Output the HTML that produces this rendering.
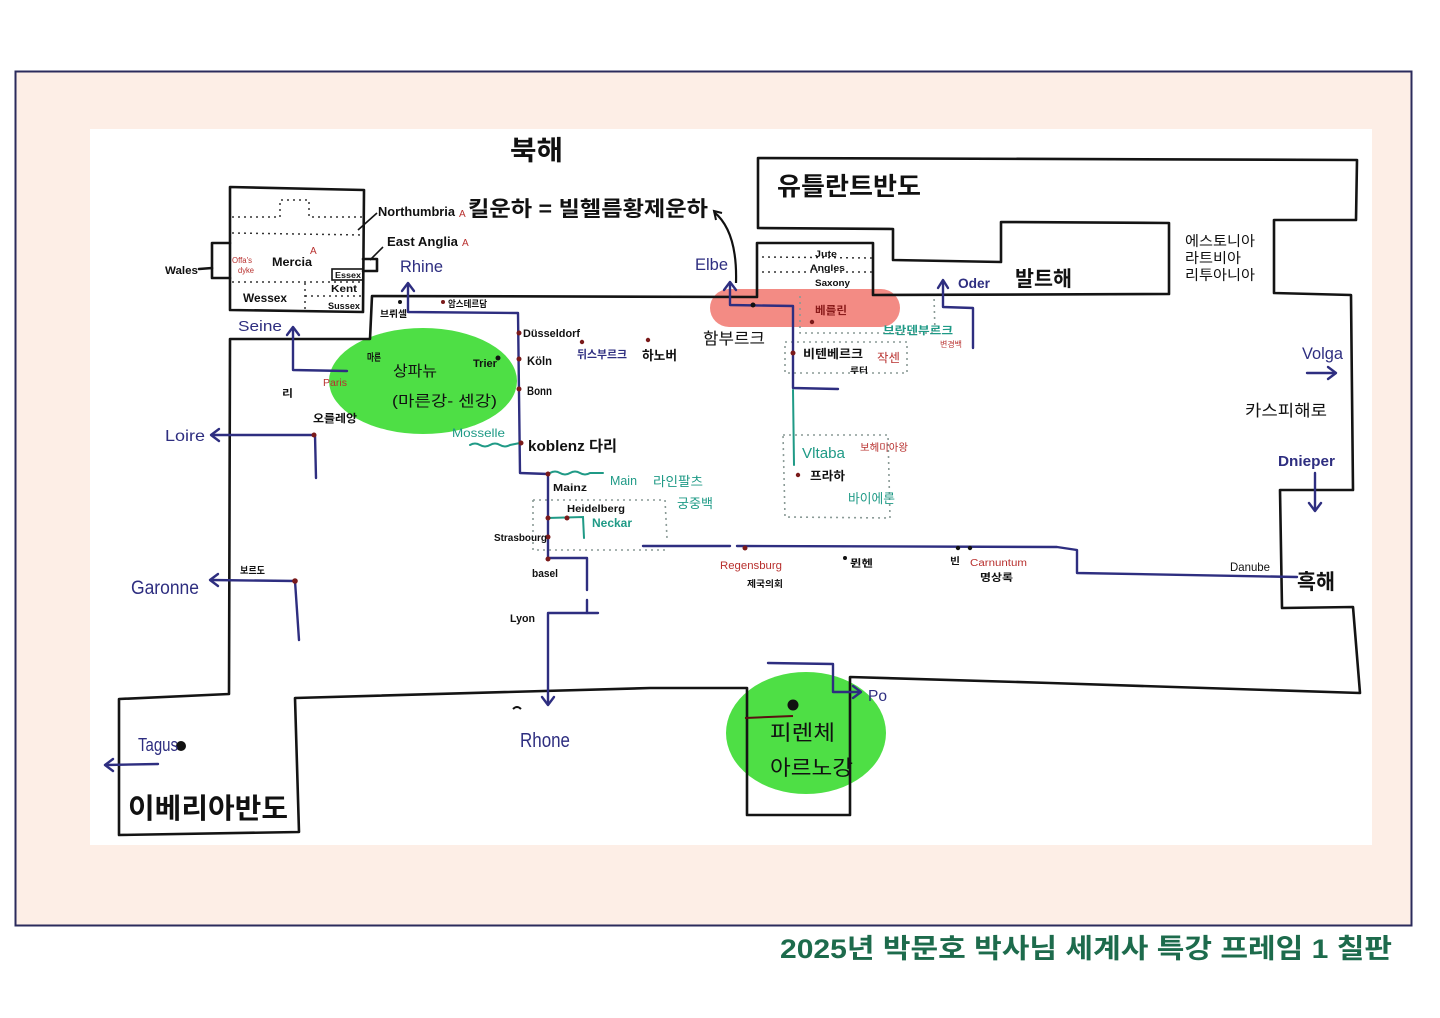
<!DOCTYPE html>
<html><head><meta charset="utf-8">
<style>
html,body{margin:0;padding:0;background:#fff;width:1440px;height:1018px;overflow:hidden}
svg{display:block}
text{font-family:"Liberation Sans","Noto Sans CJK KR",sans-serif}
</style></head><body>
<svg width="1440" height="1018" viewBox="0 0 1440 1018" xmlns="http://www.w3.org/2000/svg">
<rect x="15.5" y="71.5" width="1396" height="854" fill="#fdeee6" stroke="#2b2b5c" stroke-width="2"/>
<rect x="90" y="129" width="1282" height="716" fill="#fff"/>

<!-- highlight blobs -->
<ellipse cx="423" cy="381" rx="94" ry="53" fill="#3fdc35" opacity="0.92"/>
<ellipse cx="806" cy="733" rx="80" ry="61" fill="#3fdc35" opacity="0.92"/>
<rect x="710" y="289" width="190" height="38" rx="19" fill="#ee5a50" opacity="0.7"/>

<!-- coast outlines -->
<g fill="none" stroke="#141414" stroke-width="2.6" stroke-linejoin="round" stroke-linecap="round">
<path d="M230,187 L364,190 L363,312 L230,310 Z"/>
<path d="M230,243 L212,243 L212,278 L230,278"/>
<path d="M363,259 L377,259 L377,271 L363,271"/>
<path d="M199,269 L212,268"/>
<path d="M229,694 L230,339 L370,339 L372,296 L757,297 L757,243 L873,243 L873,295 L1169,294 L1169,223 L1001,222 L1001,262 L893,260 L893,229 L758,228 L758,158 L1357,160 L1356,220 L1274,220 L1274,293 L1351,295 L1353,490 L1280,490 L1282,608 L1353,607 L1360,693 L1050,683 L850,677 L850,815 L747,815 L747,688 L650,688 L295,698 L299,832 L119,835 L119,699 L229,694 Z"/>
</g>
<g fill="none" stroke="#141414" stroke-width="1.6">
<path d="M377,213 L358,230"/>
<path d="M383,247 L370,260"/>
<rect x="332" y="269" width="31" height="11"/>
</g>

<!-- dotted regions -->
<g fill="none" stroke="#333" stroke-width="1.5" stroke-dasharray="2 4">
<path d="M232,217 L280,217 L280,200 L309,200 L309,217 L363,217"/>
<path d="M232,233 L363,235"/>
<path d="M232,282 L363,282"/>
<path d="M305,283 L305,310"/>
<path d="M305,296 L330,296 L363,296"/>
<path d="M762,257 L872,258"/>
<path d="M762,272 L872,272"/>
</g>
<g fill="none" stroke="#8a9a96" stroke-width="1.6" stroke-dasharray="2 4">
<path d="M800,296 L800,333 L935,333 L934,296"/>
<path d="M785,342 L907,342 L907,373 L785,373 Z"/>
<path d="M783,435 L888,435 L890,518 L785,517 Z"/>
<path d="M533,500 L665,500 L667,538"/>
<path d="M533,500 L533,550 L668,550"/>
</g>

<!-- rivers -->
<g fill="none" stroke="#2e2e80" stroke-width="2.4" stroke-linejoin="round" stroke-linecap="round">
<path d="M408,284 L408,312 L518,313 L520,473 L548,474 L548,558 L587,558 L587,590"/>
<path d="M587,600 L587,613"/>
<path d="M598,613 L548,613 L548,704"/>
<path d="M402,291 L408,283 L414,291"/>
<path d="M542,697 L548,705 L554,697"/>
<path d="M293,328 L293,370 L347,371"/>
<path d="M287,335 L293,327 L299,335"/>
<path d="M212,435 L315,435 L316,478"/>
<path d="M219,429 L211,435 L219,441"/>
<path d="M211,580 L295,581 L299,640"/>
<path d="M218,574 L210,580 L218,586"/>
<path d="M158,764 L106,765"/>
<path d="M113,759 L105,765 L113,771"/>
<path d="M730,283 L730,305 L793,306 L793,388 L838,389"/>
<path d="M724,290 L730,282 L736,290"/>
<path d="M943,281 L943,307 L973,308 L973,348"/>
<path d="M938,288 L943,280 L948,288"/>
<path d="M643,546 L730,546"/>
<path d="M737,546 L1057,547 L1077,550 L1077,573 L1297,577"/>
<path d="M768,663 L833,664 L833,692 L860,692"/>
<path d="M853,686 L861,692 L853,698"/>
<path d="M1307,373 L1335,373"/>
<path d="M1328,367 L1336,373 L1328,379"/>
<path d="M1315,473 L1315,510"/>
<path d="M1309,503 L1315,511 L1321,503"/>
</g>
<g fill="none" stroke="#1f9a86" stroke-width="2" stroke-linecap="round">
<path d="M793,390 L794,465"/>
<path d="M470,445 q5,-3 10,0 t10,0 t10,0 t10,0 L520,443"/>
<path d="M550,473 q5,-3 10,0 t10,0 t10,0 t10,0 L603,473"/>
<path d="M547,518 L583,517 L584,538"/>
</g>
<path d="M745,718 L793,716" stroke="#5a1010" stroke-width="2" fill="none"/>
<path d="M736,283 C737,250 730,225 714,212" stroke="#111" stroke-width="2.2" fill="none"/>
<path d="M722,213 L714,211 L716,220" stroke="#111" stroke-width="2" fill="none"/>

<!-- dots -->
<g fill="#7a1a1a">
<circle cx="519" cy="333" r="2.5"/><circle cx="519" cy="359" r="2.5"/><circle cx="519" cy="389" r="2.5"/>
<circle cx="521" cy="443" r="2.5"/><circle cx="548" cy="474" r="2.5"/><circle cx="567" cy="518" r="2.5"/>
<circle cx="548" cy="518" r="2.5"/><circle cx="548" cy="537" r="2.5"/><circle cx="548" cy="559" r="2.5"/>
<circle cx="582" cy="342" r="2.2"/><circle cx="648" cy="340" r="2.2"/><circle cx="812" cy="322" r="2.2"/>
<circle cx="793" cy="353" r="2.5"/><circle cx="798" cy="475" r="2.2"/><circle cx="745" cy="548" r="2.5"/>
<circle cx="314" cy="435" r="2.5"/><circle cx="295" cy="581" r="2.8"/><circle cx="443" cy="302" r="2"/>
</g>
<g fill="#111">
<circle cx="753" cy="305" r="2.5"/><circle cx="498" cy="358" r="2.5"/><circle cx="400" cy="302" r="2"/>
<circle cx="845" cy="558" r="2"/><circle cx="958" cy="548" r="2.2"/><circle cx="970" cy="548" r="2.2"/>
<circle cx="793" cy="705" r="5.5"/><circle cx="181" cy="746" r="5"/>
</g>
<path d="M513,709 q4,-4 8,0" stroke="#111" stroke-width="2" fill="none"/>

<!-- printed Korean labels -->
<g fill="#111">
<text x="510" y="160" font-size="27" font-weight="bold" textLength="53" lengthAdjust="spacingAndGlyphs">북해</text>
<text x="468" y="216" font-size="21" font-weight="bold" textLength="240" lengthAdjust="spacingAndGlyphs">킬운하 = 빌헬름황제운하</text>
<text x="777" y="195" font-size="25" font-weight="bold" textLength="144" lengthAdjust="spacingAndGlyphs">유틀란트반도</text>
<text x="1015" y="286" font-size="21" font-weight="bold" textLength="57" lengthAdjust="spacingAndGlyphs">발트해</text>
<text x="1185" y="246" font-size="14" textLength="70" lengthAdjust="spacingAndGlyphs">에스토니아</text>
<text x="1185" y="263" font-size="14" textLength="56" lengthAdjust="spacingAndGlyphs">라트비아</text>
<text x="1185" y="280" font-size="14" textLength="70" lengthAdjust="spacingAndGlyphs">리투아니아</text>
<text x="1245" y="416" font-size="16" textLength="82" lengthAdjust="spacingAndGlyphs">카스피해로</text>
<text x="1297" y="589" font-size="21" font-weight="bold" textLength="38" lengthAdjust="spacingAndGlyphs">흑해</text>
<text x="128" y="818" font-size="28" font-weight="bold" textLength="160" lengthAdjust="spacingAndGlyphs">이베리아반도</text>
<text x="703" y="344" font-size="16" textLength="62" lengthAdjust="spacingAndGlyphs">함부르크</text>
<text x="393" y="376" font-size="15" textLength="44" lengthAdjust="spacingAndGlyphs">상파뉴</text>
<text x="392" y="406" font-size="15" textLength="105" lengthAdjust="spacingAndGlyphs">(마른강- 센강)</text>
<text x="770" y="740" font-size="21" textLength="65" lengthAdjust="spacingAndGlyphs">피렌체</text>
<text x="770" y="775" font-size="21" textLength="83" lengthAdjust="spacingAndGlyphs">아르노강</text>
</g>

<!-- handwritten black labels -->
<g fill="#111" font-weight="bold">
<text x="378" y="216" font-size="13" textLength="77" lengthAdjust="spacingAndGlyphs">Northumbria</text>
<text x="387" y="246" font-size="13" textLength="71" lengthAdjust="spacingAndGlyphs">East Anglia</text>
<text x="272" y="266" font-size="12" textLength="40" lengthAdjust="spacingAndGlyphs">Mercia</text>
<text x="165" y="274" font-size="11" textLength="33" lengthAdjust="spacingAndGlyphs">Wales</text>
<text x="243" y="302" font-size="12" textLength="44" lengthAdjust="spacingAndGlyphs">Wessex</text>
<text x="335" y="278" font-size="8" textLength="26" lengthAdjust="spacingAndGlyphs">Essex</text>
<text x="331" y="292" font-size="10" textLength="26" lengthAdjust="spacingAndGlyphs">Kent</text>
<text x="328" y="309" font-size="9" textLength="32" lengthAdjust="spacingAndGlyphs">Sussex</text>
<text x="380" y="317" font-size="9" textLength="27" lengthAdjust="spacingAndGlyphs">브뤼셀</text>
<text x="448" y="307" font-size="9" textLength="39" lengthAdjust="spacingAndGlyphs">암스테르담</text>
<text x="367" y="361" font-size="10" textLength="14" lengthAdjust="spacingAndGlyphs">마른</text>
<text x="473" y="367" font-size="11" textLength="24" lengthAdjust="spacingAndGlyphs">Trier</text>
<text x="282" y="397" font-size="10" textLength="11" lengthAdjust="spacingAndGlyphs">리</text>
<text x="313" y="422" font-size="11" textLength="44" lengthAdjust="spacingAndGlyphs">오를레앙</text>
<text x="240" y="574" font-size="10" textLength="25" lengthAdjust="spacingAndGlyphs">보르도</text>
<text x="510" y="622" font-size="11" textLength="25" lengthAdjust="spacingAndGlyphs">Lyon</text>
<text x="532" y="577" font-size="11" textLength="26" lengthAdjust="spacingAndGlyphs">basel</text>
<text x="494" y="541" font-size="10" textLength="53" lengthAdjust="spacingAndGlyphs">Strasbourg</text>
<text x="567" y="512" font-size="10" textLength="58" lengthAdjust="spacingAndGlyphs">Heidelberg</text>
<text x="553" y="491" font-size="10" textLength="34" lengthAdjust="spacingAndGlyphs">Mainz</text>
<text x="528" y="451" font-size="15" textLength="89" lengthAdjust="spacingAndGlyphs">koblenz 다리</text>
<text x="523" y="337" font-size="11" textLength="57" lengthAdjust="spacingAndGlyphs">Düsseldorf</text>
<text x="527" y="365" font-size="12" textLength="25" lengthAdjust="spacingAndGlyphs">Köln</text>
<text x="527" y="395" font-size="12" textLength="25" lengthAdjust="spacingAndGlyphs">Bonn</text>
<text x="642" y="360" font-size="13" textLength="35" lengthAdjust="spacingAndGlyphs">하노버</text>
<text x="815" y="257" font-size="9" textLength="22" lengthAdjust="spacingAndGlyphs">Jute</text>
<text x="810" y="271" font-size="9" textLength="35" lengthAdjust="spacingAndGlyphs">Angles</text>
<text x="815" y="286" font-size="9" textLength="35" lengthAdjust="spacingAndGlyphs">Saxony</text>
<text x="803" y="358" font-size="12" textLength="60" lengthAdjust="spacingAndGlyphs">비텐베르크</text>
<text x="850" y="373" font-size="8" textLength="18" lengthAdjust="spacingAndGlyphs">루터</text>
<text x="810" y="480" font-size="12" textLength="35" lengthAdjust="spacingAndGlyphs">프라하</text>
<text x="747" y="587" font-size="9" textLength="36" lengthAdjust="spacingAndGlyphs">제국의회</text>
<text x="850" y="567" font-size="10" textLength="23" lengthAdjust="spacingAndGlyphs">뮌헨</text>
<text x="950" y="564" font-size="9" textLength="10" lengthAdjust="spacingAndGlyphs">빈</text>
<text x="980" y="581" font-size="10" textLength="33" lengthAdjust="spacingAndGlyphs">명상록</text>
<text x="1230" y="571" font-size="12" font-weight="normal" textLength="40" lengthAdjust="spacingAndGlyphs">Danube</text>
</g>

<!-- red labels -->
<g fill="#b8302e">
<text x="459" y="217" font-size="10">A</text>
<text x="462" y="246" font-size="10">A</text>
<text x="310" y="254" font-size="10">A</text>
<text x="232" y="263" font-size="8" textLength="20" lengthAdjust="spacingAndGlyphs">Offa's</text>
<text x="238" y="273" font-size="8" textLength="16" lengthAdjust="spacingAndGlyphs">dyke</text>
<text x="323" y="386" font-size="10" textLength="24" lengthAdjust="spacingAndGlyphs">Paris</text>
<text x="815" y="314" font-size="11" font-weight="bold" fill="#8a1a1a" textLength="32" lengthAdjust="spacingAndGlyphs">베를린</text>
<text x="940" y="347" font-size="8" textLength="22" lengthAdjust="spacingAndGlyphs">변경백</text>
<text x="877" y="362" font-size="12" textLength="23" lengthAdjust="spacingAndGlyphs">작센</text>
<text x="860" y="451" font-size="10" textLength="48" lengthAdjust="spacingAndGlyphs">보헤미아왕</text>
<text x="720" y="569" font-size="11" textLength="62" lengthAdjust="spacingAndGlyphs">Regensburg</text>
<text x="970" y="566" font-size="10" textLength="57" lengthAdjust="spacingAndGlyphs">Carnuntum</text>
</g>

<!-- teal labels -->
<g fill="#1f9a86" font-weight="bold">
<text x="452" y="437" font-size="12" font-weight="normal" textLength="53" lengthAdjust="spacingAndGlyphs">Mosselle</text>
<text x="610" y="485" font-size="13" font-weight="normal" textLength="27" lengthAdjust="spacingAndGlyphs">Main</text>
<text x="653" y="486" font-size="13" font-weight="normal" textLength="50" lengthAdjust="spacingAndGlyphs">라인팔츠</text>
<text x="677" y="508" font-size="13" font-weight="normal" textLength="36" lengthAdjust="spacingAndGlyphs">궁중백</text>
<text x="592" y="527" font-size="12" textLength="40" lengthAdjust="spacingAndGlyphs">Neckar</text>
<text x="883" y="334" font-size="11" textLength="70" lengthAdjust="spacingAndGlyphs">브란덴부르크</text>
<text x="802" y="458" font-size="15" font-weight="normal" textLength="43" lengthAdjust="spacingAndGlyphs">Vltaba</text>
<text x="848" y="503" font-size="13" font-weight="normal" textLength="47" lengthAdjust="spacingAndGlyphs">바이에른</text>
</g>

<!-- blue labels -->
<g fill="#2e2e80">
<text x="400" y="272" font-size="17" textLength="43" lengthAdjust="spacingAndGlyphs">Rhine</text>
<text x="238" y="331" font-size="15" textLength="44" lengthAdjust="spacingAndGlyphs">Seine</text>
<text x="165" y="441" font-size="16" textLength="40" lengthAdjust="spacingAndGlyphs">Loire</text>
<text x="131" y="594" font-size="19" textLength="68" lengthAdjust="spacingAndGlyphs">Garonne</text>
<text x="138" y="751" font-size="18" textLength="40" lengthAdjust="spacingAndGlyphs">Tagus</text>
<text x="520" y="747" font-size="20" textLength="50" lengthAdjust="spacingAndGlyphs">Rhone</text>
<text x="695" y="270" font-size="17" textLength="33" lengthAdjust="spacingAndGlyphs">Elbe</text>
<text x="958" y="288" font-size="14" font-weight="bold" textLength="32" lengthAdjust="spacingAndGlyphs">Oder</text>
<text x="1302" y="359" font-size="17" textLength="41" lengthAdjust="spacingAndGlyphs">Volga</text>
<text x="1278" y="466" font-size="15" font-weight="bold" textLength="57" lengthAdjust="spacingAndGlyphs">Dnieper</text>
<text x="868" y="701" font-size="16" textLength="19" lengthAdjust="spacingAndGlyphs">Po</text>
<text x="577" y="358" font-size="11" font-weight="bold" textLength="50" lengthAdjust="spacingAndGlyphs">뒤스부르크</text>
</g>

<!-- footer -->
<text x="1392" y="958" font-size="27" font-weight="bold" fill="#1d6b4c" text-anchor="end" textLength="612" lengthAdjust="spacingAndGlyphs">2025년 박문호 박사님 세계사 특강 프레임 1 칠판</text>
</svg>
</body></html>
